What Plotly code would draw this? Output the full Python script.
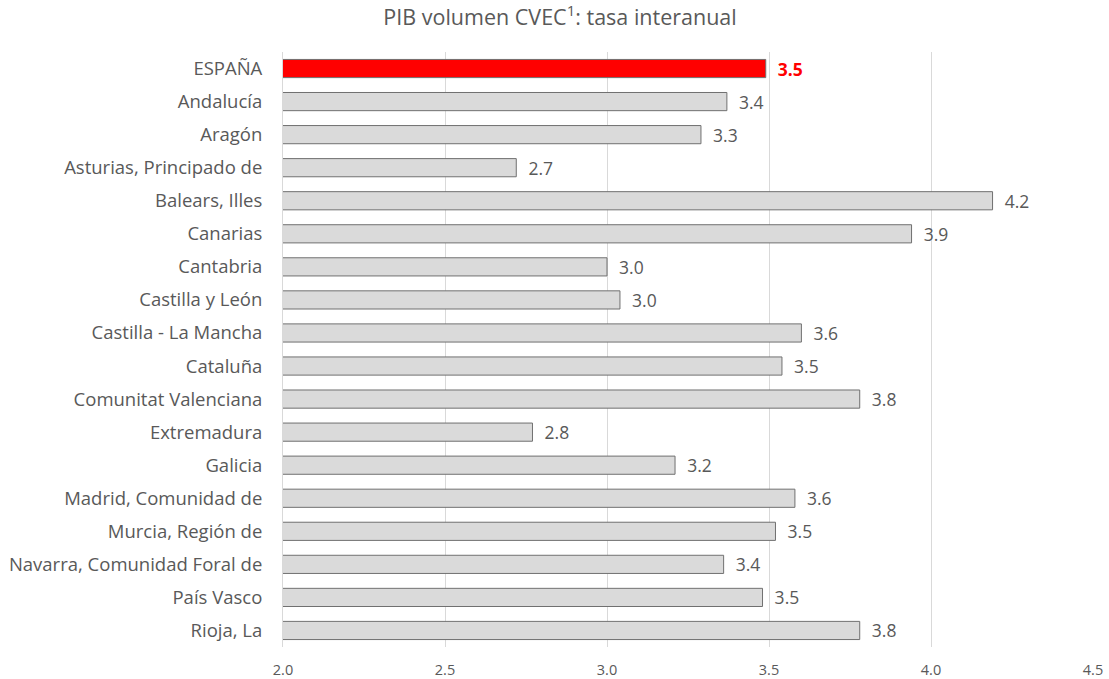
import plotly.graph_objects as go

categories = ["ESPAÑA", "Andalucía", "Aragón", "Asturias, Principado de", "Balears, Illes",
              "Canarias", "Cantabria", "Castilla y León", "Castilla - La Mancha", "Cataluña",
              "Comunitat Valenciana", "Extremadura", "Galicia", "Madrid, Comunidad de",
              "Murcia, Región de", "Navarra, Comunidad Foral de", "País Vasco", "Rioja, La"]
values = [3.49, 3.37, 3.29, 2.72, 4.19, 3.94, 3.00, 3.04, 3.60, 3.54,
          3.78, 2.77, 3.21, 3.58, 3.52, 3.36, 3.48, 3.78]
x_ticks = [2.0, 2.5, 3.0, 3.5, 4.0, 4.5]

fills = ["#ff0000"] + ["#dadada"] * (len(categories) - 1)
pad = "\u00a0\u00a0"
texts = [pad + (f"<b>{v:.1f}</b>" if i == 0 else f"{v:.1f}") for i, v in enumerate(values)]
text_colors = ["#ff0000"] + ["#595959"] * (len(categories) - 1)

FONT = "Open Sans"

fig = go.Figure(go.Bar(
    y=categories, x=values, orientation="h", base=0,
    marker=dict(color=fills, line=dict(color="#707070", width=1)),
    text=texts, textposition="outside", cliponaxis=False, constraintext="none",
    textfont=dict(family=FONT, size=17.5, color=text_colors),
    hoverinfo="skip",
))

fig.update_layout(
    width=1109, height=679,
    margin=dict(l=283, r=16, t=52, b=32, autoexpand=False),
    paper_bgcolor="white", plot_bgcolor="white",
    bargap=0.45,
    showlegend=False,
    font=dict(family=FONT, color="#595959"),
    title=dict(text="PIB volumen CVEC<sup>1</sup>: tasa interanual", x=0.505, xanchor="center",
               y=0.974, yanchor="middle", font=dict(family=FONT, size=21.5, color="#595959")),
)
fig.update_xaxes(range=[2.0, 4.5], tickvals=x_ticks, ticktext=[f"{t:.1f}" for t in x_ticks],
                 showgrid=True, gridcolor="#d9d9d9", gridwidth=1, zeroline=False,
                 showline=False, automargin=False,
                 tickfont=dict(family=FONT, size=14.5, color="#595959"),
                 ticks="outside", ticklen=10, tickcolor="rgba(0,0,0,0)")
fig.update_yaxes(autorange="reversed", showline=True, linecolor="#d9d9d9", linewidth=1,
                 automargin=False,
                 tickfont=dict(family=FONT, size=18.5, color="#595959"),
                 ticks="outside", ticklen=16, tickcolor="rgba(0,0,0,0)")

fig.write_html("out.html", config={"displayModeBar": False},
               post_script="document.body.style.margin='0px';")
